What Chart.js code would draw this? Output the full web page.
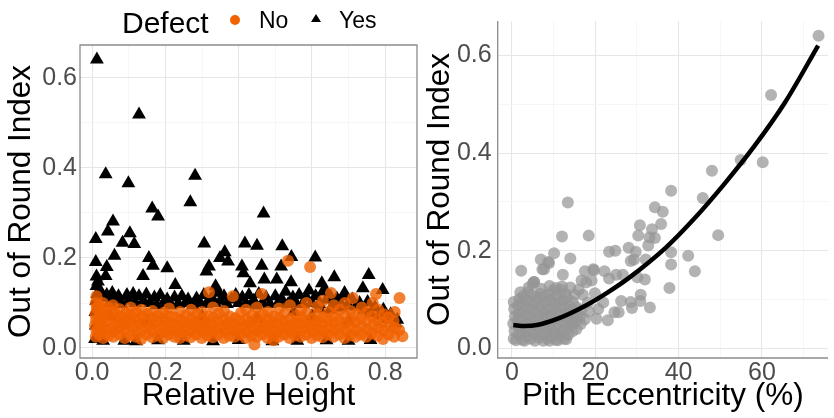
<!DOCTYPE html>
<html>
<head>
<meta charset="utf-8">
<script src="https://cdn.jsdelivr.net/npm/chart.js@4.4.1/dist/chart.umd.min.js"></script>
<style>
body { margin: 0; background: #fff; }
#wrap { position: relative; width: 834px; height: 418px; overflow: hidden; font-family: "Liberation Sans", Arial, sans-serif; }
#left { position: absolute; left: 0; top: 0; }
#right { position: absolute; left: 425px; top: 0; }
.key { position: absolute; line-height: 1; white-space: nowrap; color: #000; }
</style>
</head>
<body>
<div id="wrap">
    <canvas id="left" width="425" height="418"></canvas>
    <canvas id="right" width="409" height="418"></canvas>
    <div class="key" style="left:122px;top:8px;font-size:30px">Defect</div>
    <div class="key" style="left:230px;top:14.5px;width:10px;height:10px;border-radius:50%;background:#f06400"></div>
    <div class="key" style="left:259px;top:9px;font-size:23px">No</div>
    <div class="key" style="left:310.5px;top:14px;width:0;height:0;border-left:5px solid transparent;border-right:5px solid transparent;border-bottom:8.5px solid #000"></div>
    <div class="key" style="left:339px;top:9px;font-size:23px">Yes</div>
</div>
<script>
const ORANGE = "rgba(240,98,0,0.8)";
const GREY = "rgba(150,150,150,0.72)";
const TICK_FONT = { family: "'Liberation Sans', Arial, sans-serif", size: 25 };
const TITLE_FONT = { family: "'Liberation Sans', Arial, sans-serif", size: 31.5, lineHeight: 1 };

// left panel: relative height vs out of round index
const heightTicks = [0, 0.1, 0.2, 0.3, 0.4, 0.5, 0.6, 0.7, 0.8];
const heightLabels = ["0.0", "", "0.2", "", "0.4", "", "0.6", "", "0.8"];
const roundTicks = [0, 0.1, 0.2, 0.3, 0.4, 0.5, 0.6];
const roundLabels = ["0.0", "", "0.2", "", "0.4", "", "0.6"];

// right panel: pith eccentricity
const pithTicks = [0, 10, 20, 30, 40, 50, 60, 70];
const pithLabels = ["0", "", "20", "", "40", "", "60", ""];

// Defect = No
const noPoints = [
    [0.010,0.025],[0.012,0.038],[0.008,0.050],[0.011,0.062],[0.009,0.075],[0.013,0.088],[0.010,0.100],[0.012,0.115],
    [0.019,0.030],[0.021,0.045],[0.017,0.058],[0.020,0.070],[0.022,0.083],[0.018,0.095],
    [0.030,0.022],[0.033,0.040],[0.028,0.055],[0.031,0.068],[0.034,0.080],[0.029,0.100],
    [0.044,0.028],[0.047,0.042],[0.043,0.060],[0.046,0.073],[0.045,0.090],
    [0.058,0.025],[0.061,0.036],[0.059,0.050],[0.062,0.065],[0.060,0.080],[0.057,0.095],
    [0.074,0.030],[0.077,0.045],[0.073,0.058],[0.076,0.070],[0.075,0.086],
    [0.089,0.022],[0.092,0.040],[0.088,0.052],[0.091,0.066],[0.093,0.078],
    [0.104,0.028],[0.107,0.047],[0.103,0.060],[0.106,0.072],[0.105,0.090],
    [0.119,0.025],[0.122,0.035],[0.118,0.050],[0.121,0.064],[0.120,0.080],
    [0.134,0.020],[0.137,0.040],[0.133,0.055],[0.136,0.070],[0.135,0.085],
    [0.149,0.030],[0.152,0.045],[0.148,0.058],[0.151,0.075],
    [0.164,0.024],[0.167,0.038],[0.163,0.052],[0.166,0.066],[0.165,0.082],
    [0.179,0.028],[0.182,0.044],[0.178,0.060],[0.181,0.072],
    [0.194,0.022],[0.197,0.036],[0.193,0.050],[0.196,0.065],[0.195,0.078],
    [0.209,0.030],[0.212,0.042],[0.208,0.056],[0.211,0.070],[0.210,0.088],
    [0.224,0.025],[0.227,0.040],[0.223,0.053],[0.226,0.068],
    [0.239,0.022],[0.242,0.035],[0.238,0.048],[0.241,0.062],[0.240,0.080],
    [0.254,0.028],[0.257,0.045],[0.253,0.058],[0.256,0.072],
    [0.269,0.024],[0.272,0.038],[0.268,0.052],[0.271,0.066],[0.270,0.085],
    [0.284,0.030],[0.287,0.044],[0.283,0.058],[0.286,0.075],
    [0.299,0.022],[0.302,0.036],[0.298,0.050],[0.301,0.064],[0.300,0.080],
    [0.314,0.028],[0.317,0.042],[0.313,0.056],[0.316,0.070],[0.319,0.124],
    [0.329,0.024],[0.332,0.038],[0.328,0.052],[0.331,0.068],[0.330,0.090],
    [0.344,0.030],[0.347,0.045],[0.343,0.060],[0.346,0.076],
    [0.359,0.022],[0.362,0.036],[0.358,0.050],[0.361,0.063],[0.360,0.082],
    [0.374,0.027],[0.377,0.042],[0.373,0.056],[0.376,0.070],
    [0.389,0.025],[0.392,0.038],[0.388,0.052],[0.391,0.066],[0.384,0.115],
    [0.404,0.030],[0.407,0.045],[0.403,0.060],[0.406,0.078],
    [0.419,0.022],[0.422,0.036],[0.418,0.050],[0.421,0.064],[0.420,0.085],
    [0.434,0.028],[0.437,0.042],[0.433,0.057],[0.436,0.072],[0.443,0.008],
    [0.449,0.025],[0.452,0.039],[0.448,0.053],[0.451,0.068],[0.450,0.090],
    [0.464,0.030],[0.467,0.044],[0.463,0.058],[0.466,0.075],[0.463,0.120],
    [0.479,0.022],[0.482,0.036],[0.478,0.050],[0.481,0.064],[0.480,0.080],
    [0.494,0.028],[0.497,0.042],[0.493,0.056],[0.496,0.070],[0.495,0.017],
    [0.509,0.025],[0.512,0.038],[0.508,0.052],[0.511,0.066],[0.510,0.088],
    [0.524,0.030],[0.527,0.045],[0.523,0.060],[0.526,0.076],[0.535,0.194],
    [0.539,0.022],[0.542,0.036],[0.538,0.050],[0.541,0.064],[0.540,0.095],
    [0.554,0.028],[0.557,0.042],[0.553,0.056],[0.556,0.072],
    [0.569,0.025],[0.572,0.040],[0.568,0.054],[0.571,0.068],[0.570,0.085],
    [0.584,0.030],[0.587,0.045],[0.583,0.060],[0.586,0.078],[0.585,0.100],[0.595,0.180],
    [0.599,0.022],[0.602,0.036],[0.598,0.050],[0.601,0.065],
    [0.614,0.028],[0.617,0.043],[0.613,0.058],[0.616,0.075],[0.615,0.092],
    [0.629,0.024],[0.632,0.038],[0.628,0.052],[0.631,0.068],[0.630,0.105],
    [0.644,0.030],[0.647,0.046],[0.643,0.060],[0.646,0.080],[0.652,0.122],
    [0.659,0.025],[0.662,0.040],[0.658,0.055],[0.661,0.070],[0.660,0.095],
    [0.674,0.030],[0.677,0.045],[0.673,0.062],[0.676,0.085],
    [0.689,0.022],[0.692,0.038],[0.688,0.055],[0.691,0.072],[0.690,0.100],
    [0.704,0.028],[0.707,0.046],[0.703,0.060],[0.706,0.082],[0.712,0.111],
    [0.719,0.025],[0.722,0.040],[0.718,0.058],[0.721,0.075],
    [0.734,0.030],[0.737,0.048],[0.733,0.065],[0.736,0.090],
    [0.749,0.025],[0.752,0.042],[0.748,0.060],[0.751,0.080],
    [0.764,0.032],[0.767,0.050],[0.763,0.070],[0.766,0.100],[0.775,0.120],
    [0.779,0.027],[0.782,0.045],[0.778,0.062],[0.781,0.085],
    [0.794,0.020],[0.797,0.040],[0.793,0.058],[0.796,0.075],
    [0.809,0.030],[0.812,0.050],[0.808,0.068],
    [0.824,0.025],[0.827,0.045],[0.823,0.060],[0.826,0.080],
    [0.839,0.111],[0.838,0.040],[0.847,0.026]
];

// Defect = Yes
const yesPoints = [
    [0.013,0.641],[0.128,0.519],[0.037,0.386],[0.099,0.366],[0.281,0.383],[0.268,0.324],[0.164,0.310],
    [0.180,0.292],[0.468,0.299],[0.057,0.281],[0.043,0.259],[0.010,0.242],[0.103,0.255],[0.083,0.234],
    [0.115,0.231],[0.306,0.232],[0.417,0.232],[0.450,0.227],[0.519,0.226],[0.061,0.205],[0.362,0.213],
    [0.349,0.200],[0.371,0.192],[0.155,0.200],[0.166,0.183],[0.205,0.177],[0.010,0.191],[0.040,0.180],
    [0.319,0.181],[0.312,0.170],[0.409,0.181],[0.413,0.166],[0.463,0.183],[0.544,0.202],[0.609,0.201],
    [0.516,0.181],[0.012,0.159],[0.037,0.160],[0.139,0.160],[0.227,0.140],[0.431,0.144],[0.470,0.152],
    [0.504,0.152],[0.543,0.146],[0.661,0.157],[0.755,0.162],[0.627,0.144],[0.636,0.129],[0.739,0.133],
    [0.793,0.129],[0.337,0.137],[0.344,0.123],[0.012,0.138],[0.021,0.129],[0.833,0.063],[0.689,0.122],
    [0.008,0.020],[0.010,0.050],[0.009,0.080],[0.011,0.105],[0.014,0.120],[0.016,0.148],[0.025,0.112],
    [0.040,0.118],[0.048,0.100],[0.055,0.122],[0.064,0.108],[0.072,0.115],[0.080,0.098],[0.088,0.016],
    [0.095,0.118],[0.100,0.105],[0.112,0.120],[0.118,0.100],[0.128,0.115],[0.140,0.104],[0.148,0.119],
    [0.158,0.100],[0.170,0.112],[0.176,0.095],[0.186,0.118],[0.195,0.100],[0.205,0.108],[0.215,0.095],
    [0.225,0.112],[0.235,0.098],[0.245,0.115],[0.255,0.100],[0.262,0.108],[0.275,0.095],[0.285,0.110],
    [0.295,0.100],[0.305,0.118],[0.312,0.098],[0.325,0.110],[0.335,0.100],[0.342,0.128],[0.350,0.105],
    [0.360,0.115],[0.368,0.098],[0.380,0.108],[0.392,0.118],[0.400,0.100],[0.410,0.112],[0.420,0.098],
    [0.428,0.118],[0.440,0.105],[0.448,0.095],[0.455,0.120],[0.465,0.100],[0.475,0.112],[0.485,0.098],
    [0.492,0.015],[0.500,0.115],[0.508,0.100],[0.518,0.108],[0.528,0.125],[0.535,0.098],[0.548,0.112],
    [0.555,0.100],[0.565,0.118],[0.575,0.098],[0.585,0.112],[0.592,0.128],[0.600,0.100],[0.610,0.115],
    [0.620,0.098],[0.630,0.125],[0.640,0.108],[0.650,0.115],[0.660,0.098],[0.668,0.110],[0.678,0.100],
    [0.690,0.115],[0.698,0.095],[0.710,0.108],[0.720,0.092],[0.730,0.100],[0.742,0.085],[0.752,0.102],
    [0.760,0.078],[0.772,0.090],[0.785,0.072],[0.795,0.085],[0.805,0.065],[0.815,0.075],[0.828,0.055],
    [0.030,0.016],[0.120,0.015],[0.180,0.017],[0.250,0.016],[0.330,0.015],[0.400,0.018],[0.560,0.016],
    [0.640,0.017],[0.700,0.016],[0.760,0.018],
    [0.050,0.070],[0.150,0.060],[0.300,0.070],[0.450,0.065],[0.550,0.080],[0.600,0.070],[0.650,0.085],
    [0.700,0.060],[0.680,0.090],[0.620,0.088]
];

// pith eccentricity (%) vs out of round index
const pithPoints = [
    [0.4,0.020],[0.6,0.036],[0.3,0.051],[0.7,0.066],[0.5,0.081],[0.4,0.095],
    [1.5,0.028],[1.7,0.043],[1.3,0.058],[1.6,0.072],[1.4,0.088],[1.8,0.102],
    [2.5,0.018],[2.3,0.032],[2.7,0.048],[2.4,0.062],[2.6,0.078],[2.2,0.092],[2.8,0.108],
    [3.5,0.025],[3.3,0.040],[3.7,0.055],[3.4,0.070],[3.6,0.085],[3.2,0.100],[3.8,0.115],
    [4.5,0.020],[4.3,0.035],[4.7,0.050],[4.4,0.065],[4.6,0.080],[4.2,0.095],[4.8,0.110],
    [5.5,0.016],[5.3,0.030],[5.7,0.045],[5.4,0.060],[5.6,0.075],[5.2,0.090],[5.8,0.105],[5.3,0.136],
    [6.5,0.022],[6.3,0.038],[6.7,0.052],[6.4,0.068],[6.6,0.082],[6.2,0.098],[6.8,0.112],
    [7.5,0.016],[7.3,0.028],[7.7,0.044],[7.4,0.058],[7.6,0.074],[7.2,0.090],[7.8,0.106],
    [8.5,0.020],[8.3,0.035],[8.7,0.050],[8.4,0.065],[8.6,0.080],[8.2,0.095],[8.8,0.110],
    [9.5,0.025],[9.3,0.040],[9.7,0.055],[9.4,0.070],[9.6,0.085],[9.2,0.100],[9.8,0.118],
    [10.5,0.018],[10.3,0.032],[10.7,0.048],[10.4,0.062],[10.6,0.078],[10.2,0.092],[10.8,0.108],
    [11.5,0.025],[11.3,0.040],[11.7,0.056],[11.4,0.070],[11.6,0.085],[11.2,0.100],[11.8,0.120],
    [12.5,0.020],[12.3,0.036],[12.7,0.050],[12.4,0.066],[12.6,0.082],[12.2,0.098],[12.8,0.112],
    [13.5,0.028],[13.3,0.042],[13.7,0.058],[13.4,0.072],[13.6,0.088],[13.2,0.104],
    [14.5,0.035],[14.3,0.050],[14.7,0.065],[14.4,0.080],[14.6,0.095],[14.0,0.125],
    [15.5,0.040],[15.3,0.055],[15.7,0.070],[15.4,0.085],[15.0,0.110],
    [16.5,0.050],[16.3,0.065],[16.7,0.080],[16.0,0.120],[17.0,0.110],[17.8,0.135],
    [1.0,0.017],[3.0,0.016],[9.0,0.016],[11.0,0.017],[13.0,0.019],
    [2.0,0.115],[4.0,0.125],[7.0,0.122],[9.0,0.128],[10.5,0.124],[12.0,0.127],
    [5.0,0.133],[8.9,0.175],[7.3,0.162],[19.5,0.162],[17.5,0.060],[18.5,0.075],
    [73.6,0.640],[62.2,0.519],[60.2,0.381],[54.9,0.386],[48.0,0.364],[45.8,0.308],[49.5,0.232],
    [38.2,0.323],[13.4,0.299],[34.3,0.289],[36.2,0.280],[35.8,0.255],[30.7,0.252],[33.6,0.244],
    [30.3,0.231],[33.0,0.227],[34.3,0.226],[32.7,0.211],[12.0,0.229],[18.4,0.231],[28.0,0.206],
    [29.7,0.198],[38.2,0.197],[42.3,0.190],[23.3,0.198],[24.8,0.200],[28.5,0.179],[29.3,0.182],
    [38.2,0.172],[43.9,0.158],[37.8,0.124],[32.1,0.182],[10.1,0.195],[14.0,0.184],[6.9,0.182],
    [8.7,0.177],[7.7,0.162],[2.2,0.159],[17.5,0.158],[19.7,0.160],[22.2,0.158],[25.0,0.151],
    [26.6,0.151],[12.2,0.151],[16.7,0.139],[19.1,0.139],[23.3,0.143],[30.1,0.146],[31.9,0.141],
    [30.9,0.110],[26.2,0.097],[28.5,0.095],[30.8,0.097],[33.1,0.084],[28.8,0.083],[24.6,0.074],
    [25.6,0.074],[23.0,0.058],[20.3,0.061],[21.9,0.094],[19.9,0.113],[18.2,0.094],[20.7,0.081],
    [5.3,0.136]
];

// fitted curve
const fitX = [0.3, 3, 6, 11, 17.5, 23, 28, 37, 44, 51, 58, 65.5, 73.5];
const fitY = [0.048, 0.046, 0.048, 0.061, 0.087, 0.115, 0.144, 0.207, 0.268, 0.337, 0.412, 0.503, 0.620];

function toXY(points) {
    return points.map(([x, y]) => ({ x, y }));
}

// major grid lines every other tick, minor ones fainter
function gridStyle(labels) {
    return {
        color: c => labels[c.index] ? "#e6e6e6" : "#f2f2f2",
        lineWidth: c => labels[c.index] ? 1.1 : 0.7,
        drawTicks: false
    };
}

const framePlugin = {
    id: "frame",
    afterDatasetsDraw(chart, args, opts) {
        const { ctx, chartArea: { left, top, right, bottom } } = chart;
        ctx.save();
        ctx.strokeStyle = "#8c8c8c";
        ctx.lineWidth = 1.3;
        ctx.beginPath();
        if (opts.box) {
            ctx.rect(left, top, right - left, bottom - top);
        } else {
            ctx.moveTo(left, top);
            ctx.lineTo(left, bottom);
            ctx.lineTo(right, bottom);
        }
        ctx.stroke();
        ctx.restore();
    }
};

function axis(opts) {
    return {
        type: "linear",
        min: opts.min,
        max: opts.max,
        afterBuildTicks: s => { s.ticks = opts.ticks.map(v => ({ value: v })); },
        afterFit: s => {
            if (opts.width) s.width = opts.width;
            if (opts.height) s.height = opts.height;
        },
        ticks: {
            callback: (v, i) => opts.labels[i],
            font: TICK_FONT,
            color: "#4d4d4d",
            padding: opts.pad,
            autoSkip: false,
            maxRotation: 0
        },
        grid: gridStyle(opts.labels),
        border: { display: false },
        title: {
            display: true,
            text: opts.title,
            font: TITLE_FONT,
            color: "#000",
            padding: opts.titlePad
        }
    };
}

new Chart(document.getElementById("left"), {
    type: "scatter",
    data: {
        datasets: [
            {
                label: "No",
                data: toXY(noPoints),
                pointStyle: "circle",
                radius: 6,
                backgroundColor: ORANGE,
                borderWidth: 0,
                order: 0
            },
            {
                label: "Yes",
                data: toXY(yesPoints),
                pointStyle: "triangle",
                radius: 8,
                backgroundColor: "#000",
                borderWidth: 0,
                order: 1
            }
        ]
    },
    options: {
        responsive: false,
        animation: false,
        events: [],
        layout: { padding: { left: 0, top: 45, right: 3.5, bottom: 0 } },
        plugins: { legend: { display: false }, tooltip: { enabled: false }, frame: { box: true } },
        scales: {
            x: axis({ min: -0.0331, max: 0.8868, ticks: heightTicks, labels: heightLabels, height: 60, pad: 0,
                      title: "Relative Height", titlePad: { top: 0, bottom: 5.5 } }),
            y: axis({ min: -0.0222, max: 0.6733, ticks: roundTicks, labels: roundLabels, width: 80, pad: 3,
                      title: "Out of Round Index", titlePad: { top: 6, bottom: 0 } })
        }
    },
    plugins: [framePlugin]
});

new Chart(document.getElementById("right"), {
    type: "scatter",
    data: {
        datasets: [
            {
                label: "fit",
                data: fitX.map((x, i) => ({ x, y: fitY[i] })),
                showLine: true,
                borderColor: "#000",
                borderWidth: 4.5,
                pointRadius: 0,
                cubicInterpolationMode: "monotone",
                order: 0
            },
            {
                label: "trees",
                data: toXY(pithPoints),
                pointStyle: "circle",
                radius: 6,
                backgroundColor: GREY,
                borderWidth: 0,
                order: 1
            }
        ]
    },
    options: {
        responsive: false,
        animation: false,
        events: [],
        layout: { padding: { left: 0, top: 5, right: 0, bottom: 0 } },
        plugins: { legend: { display: false }, tooltip: { enabled: false }, frame: { box: false } },
        scales: {
            x: axis({ min: -3.44, max: 75.87, ticks: pithTicks, labels: pithLabels, height: 60, pad: 0,
                      title: "Pith Eccentricity (%)", titlePad: { top: 0, bottom: 5.5 } }),
            y: axis({ min: -0.0195, max: 0.6703, ticks: roundTicks, labels: roundLabels, width: 72.7, pad: 6,
                      title: "Out of Round Index", titlePad: { top: 0, bottom: 0 } })
        }
    },
    plugins: [framePlugin]
});
</script>
</body>
</html>
